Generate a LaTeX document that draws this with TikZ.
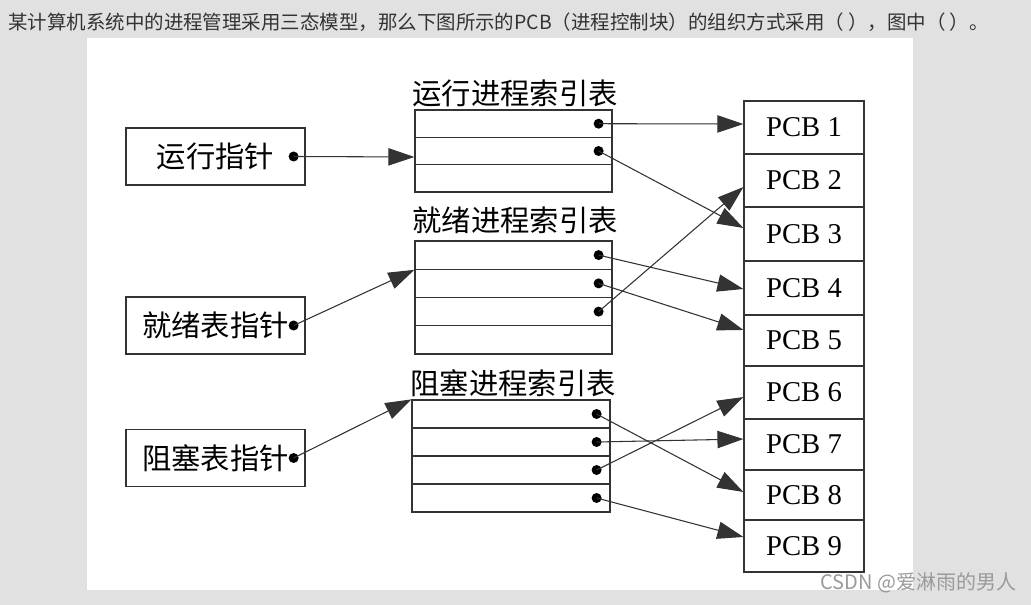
\documentclass[tikz,border=0pt]{standalone}
\usepackage{fontspec}
\setmainfont{Liberation Serif}
\newfontfamily\cjk{Noto Sans CJK SC}
\usetikzlibrary{arrows.meta}
\definecolor{bg}{HTML}{E1E1E1}
\definecolor{ln}{HTML}{333333}
\definecolor{qtext}{HTML}{333333}
\definecolor{wm}{HTML}{9A9A9A}
\begin{document}
\begin{tikzpicture}[x=0.75pt,y=-0.75pt,
  ptrbox/.style={draw=ln, line width=0.9pt, inner sep=0pt, minimum width=134.25pt, minimum height=42.75pt, font=\cjk\fontsize{22}{24}\selectfont},
  runrow/.style={draw=ln, line width=0.9pt, inner sep=0pt, minimum width=147.75pt, minimum height=20.5pt},
  rdyrow/.style={draw=ln, line width=0.9pt, inner sep=0pt, minimum width=147.75pt, minimum height=21.2pt},
  blkrow/.style={draw=ln, line width=0.9pt, inner sep=0pt, minimum width=148.5pt, minimum height=21pt},
  pcbbox/.style={draw=ln, line width=0.9pt, inner sep=0pt, minimum width=90pt, font=\fontsize{21.5}{24}\selectfont},
  dotnode/.style={circle, fill=black, inner sep=0pt, minimum size=7.5pt},
  ptr/.style={draw=ln, line width=0.8pt, -{Triangle[length=19.5pt,width=13pt]}},
  tabtitle/.style={font=\cjk\fontsize{22}{24}\selectfont, inner sep=0pt}]
\useasboundingbox (0,0) rectangle (1031,605);
\fill[bg] (0,0) rectangle (1031,605);
\fill[white] (87,38) rectangle (913,590);
% question
\node[anchor=west, text=qtext, font=\cjk\fontsize{14.6}{17}\selectfont, inner sep=0pt] (q) at (8,22)
  {某计算机系统中的进程管理采用三态模型，那么下图所示的PCB（进程控制块）的组织方式采用（ ），图中（ ）。};
% pointer boxes
\node[ptrbox] (runp) at (215.5,156.5) {运行指针};
\node[ptrbox] (rdyp) at (215.5,325.5) {就绪表指针};
\node[ptrbox] (blkp) at (215.5,458) {阻塞表指针};
\node[dotnode] (runpd) at ([xshift=-9pt]runp.east) {};
\node[dotnode] (rdypd) at ([xshift=-9pt]rdyp.east) {};
\node[dotnode] (blkpd) at ([xshift=-9pt]blkp.east) {};
% titles
\node[tabtitle] (runt) at (515,93) {运行进程索引表};
\node[tabtitle] (rdyt) at (515,220) {就绪进程索引表};
\node[tabtitle] (blkt) at (513,383) {阻塞进程索引表};
% run table
\node[runrow] (run1) at (513.5,123.7) {};
\node[runrow] (run2) at (513.5,151) {};
\node[runrow] (run3) at (513.5,178.3) {};
% ready table
\node[rdyrow] (rdy1) at (513.5,255.1) {};
\node[rdyrow] (rdy2) at (513.5,283.4) {};
\node[rdyrow] (rdy3) at (513.5,311.6) {};
\node[rdyrow] (rdy4) at (513.5,339.9) {};
% blocked table
\node[blkrow] (blk1) at (511,414) {};
\node[blkrow] (blk2) at (511,442) {};
\node[blkrow] (blk3) at (511,470) {};
\node[blkrow] (blk4) at (511,498) {};
% dots in tables
\node[dotnode] (run1d) at ([xshift=-10.5pt]run1.east) {};
\node[dotnode] (run2d) at ([xshift=-10.5pt]run2.east) {};
\node[dotnode] (rdy1d) at ([xshift=-10.5pt]rdy1.east) {};
\node[dotnode] (rdy2d) at ([xshift=-10.5pt]rdy2.east) {};
\node[dotnode] (rdy3d) at ([xshift=-10.5pt]rdy3.east) {};
\node[dotnode] (blk1d) at ([xshift=-10.5pt]blk1.east) {};
\node[dotnode] (blk2d) at ([xshift=-10.5pt]blk2.east) {};
\node[dotnode] (blk3d) at ([xshift=-10.5pt]blk3.east) {};
\node[dotnode] (blk4d) at ([xshift=-10.5pt]blk4.east) {};
% PCBs
\node[pcbbox, minimum height=39.75pt] (pcb1) at (804,127.5) {PCB 1};
\node[pcbbox, minimum height=39.75pt] (pcb2) at (804,180.5) {PCB 2};
\node[pcbbox, minimum height=40.5pt] (pcb3) at (804,234) {PCB 3};
\node[pcbbox, minimum height=40.5pt] (pcb4) at (804,288) {PCB 4};
\node[pcbbox, minimum height=38.25pt] (pcb5) at (804,340.5) {PCB 5};
\node[pcbbox, minimum height=39.75pt] (pcb6) at (804,392.5) {PCB 6};
\node[pcbbox, minimum height=38.25pt] (pcb7) at (804,444.5) {PCB 7};
\node[pcbbox, minimum height=37.5pt] (pcb8) at (804,495) {PCB 8};
\node[pcbbox, minimum height=39pt] (pcb9) at (804,546) {PCB 9};
% pointer arrows
\draw[ptr] (runpd.center) -- ([yshift=-4.5pt]run2.west);
\draw[ptr] (rdypd.center) -- (rdy1.south west);
\draw[ptr] (blkpd.center) -- (blk1.north west);
% table -> PCB arrows
\draw[ptr] (run1d.center) -- ([yshift=2.6pt]pcb1.west);
\draw[ptr] (run2d.center) -- ([yshift=4.5pt]pcb3.west);
\draw[ptr] (rdy1d.center) -- ([yshift=-0.75pt]pcb4.west);
\draw[ptr] (rdy2d.center) -- ([yshift=7.9pt]pcb5.west);
\draw[ptr] (rdy3d.center) -- ([yshift=-4.9pt]pcb2.west);
\draw[ptr] (blk1d.center) -- ([yshift=2.25pt]pcb8.west);
\draw[ptr] (blk2d.center) -- ([yshift=4.1pt]pcb7.west);
\draw[ptr] (blk3d.center) -- ([yshift=-3.4pt]pcb6.west);
\draw[ptr] (blk4d.center) -- ([yshift=6.75pt]pcb9.west);
% watermark
\node[text=wm, font=\cjk\fontsize{15}{17}\selectfont, inner sep=0pt] (wmk) at (918.5,583) {CSDN @爱淋雨的男人};
\end{tikzpicture}
\end{document}
